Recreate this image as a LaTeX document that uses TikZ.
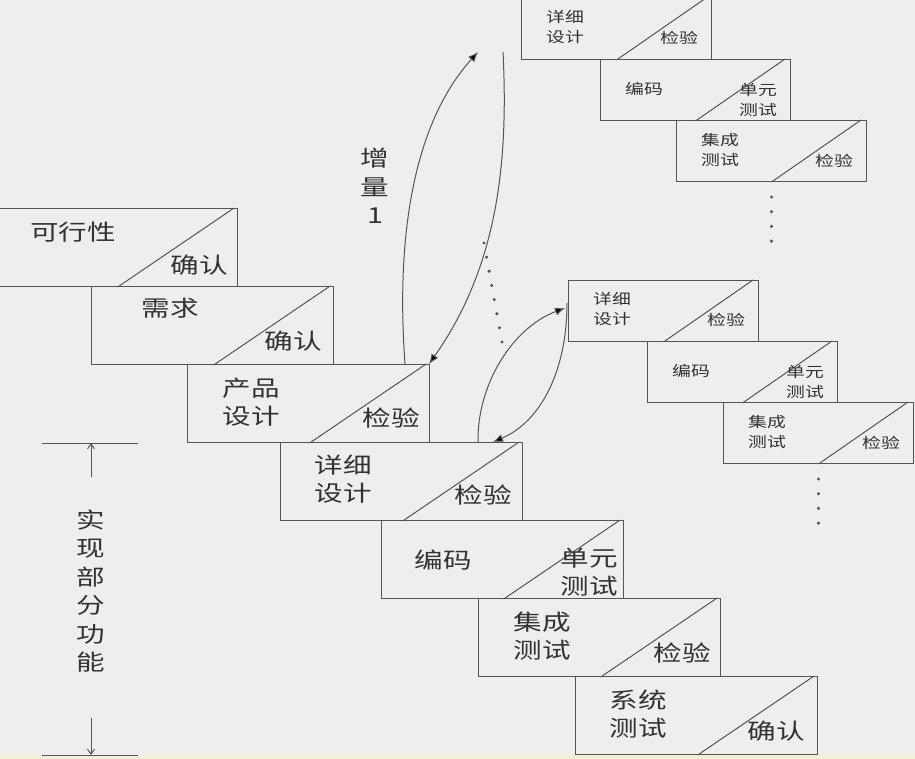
\documentclass[tikz,border=0pt]{standalone}
\usepackage{fontspec}
\newfontfamily\cjk[FakeStretch=1.3]{Noto Sans CJK SC}
\usetikzlibrary{arrows.meta}
\definecolor{bgc}{RGB}{238,238,238}
\definecolor{linec}{RGB}{85,85,85}
\definecolor{txtc}{RGB}{50,50,50}
\tikzset{
  stage/.style={draw=linec, line width=1.1pt, minimum width=242pt, minimum height=78pt, anchor=north west, inner sep=0pt},
  mini/.style={draw=linec, line width=1pt, minimum width=190pt, minimum height=61pt, anchor=north west, inner sep=0pt},
  edge/.style={draw=linec, line width=1pt},
  big/.style={font=\cjk\fontsize{22}{28.5}\selectfont, text=txtc, align=center, inner sep=0pt},
  small/.style={font=\cjk\fontsize{14.5}{20}\selectfont, text=txtc, align=center, inner sep=0pt},
  loop/.style={draw=linec, line width=1pt, -{Latex[length=10pt,width=8pt,fill=black]}},
  dim/.style={draw=linec, line width=1pt, -{Straight Barb[length=5pt,width=7pt]}}
}

\begin{document}
\begin{tikzpicture}[x=1pt,y=-1pt]
\useasboundingbox (0,0) rectangle (915,759);
\fill[bgc] (0,0) rectangle (915,759);
\fill[yellow!12!bgc] (0,755) rectangle (915,759);

% main staircase
\foreach \n/\x in {1/-5,2/91,3/187,4/280,5/381,6/478,7/575}
  \node[stage] (p\n) at (\x,{130+78*\n}) {};
\foreach \n in {1,...,7}
  \draw[edge] ([xshift=1pt]p\n.south) -- ([xshift=-4pt]p\n.north east);

\node[big] (p1l) at ([shift={(78,24)}]p1.north west) {可行性};
\node[big] (p1r) at ([shift={(-39,-22)}]p1.south east) {确认};
\node[big] (p2l) at ([shift={(79,22)}]p2.north west) {需求};
\node[big] (p2r) at ([shift={(-41,-24)}]p2.south east) {确认};
\node[big] (p3l) at ([shift={(64,38)}]p3.north west) {产品\\设计};
\node[big] (p3r) at ([shift={(-39,-25)}]p3.south east) {检验};
\node[big] (p4l) at ([shift={(63,37)}]p4.north west) {详细\\设计};
\node[big] (p4r) at ([shift={(-40,-26)}]p4.south east) {检验};
\node[big] (p5l) at ([shift={(62,40)}]p5.north west) {编码};
\node[big] (p5r) at ([shift={(-35,-27)}]p5.south east) {单元\\测试};
\node[big] (p6l) at ([shift={(64,38)}]p6.north west) {集成\\测试};
\node[big] (p6r) at ([shift={(-39,-24)}]p6.south east) {检验};
\node[big] (p7l) at ([shift={(63,38)}]p7.north west) {系统\\测试};
\node[big] (p7r) at ([shift={(-42,-24)}]p7.south east) {确认};

% two smaller increments
\foreach \s/\ox/\oy in {u/521/-2, v/568/280}{
  \node[mini] (\s-a) at (\ox,\oy) {};
  \node[mini] (\s-b) at ([shift={(79,61)}]\s-a.north west) {};
  \node[mini] (\s-c) at ([shift={(76,61)}]\s-b.north west) {};
  \foreach \m in {a,b,c}
    \draw[edge] (\s-\m.south) -- ([xshift=-6pt]\s-\m.north east);
  \node[small] (\s-al) at ([shift={(44,29)}]\s-a.north west) {详细\\设计};
  \node[small] (\s-ar) at ([shift={(-33,-22)}]\s-a.south east) {检验};
  \node[small] (\s-bl) at ([shift={(44,30)}]\s-b.north west) {编码};
  \node[small] (\s-br) at ([shift={(-33,-21)}]\s-b.south east) {单元\\测试};
  \node[small] (\s-cl) at ([shift={(44,30)}]\s-c.north west) {集成\\测试};
  \node[small] (\s-cr) at ([shift={(-33,-21)}]\s-c.south east) {检验};
  \foreach \k in {0,...,3}
    \fill[linec] ([shift={(0,15+14.7*\k)}]\s-c.south) circle (1.7);
}

% increment 1 loop
\coordinate (up1) at (478,52);
\coordinate (dn1) at (503,52);
\draw[loop] ([xshift=218pt]p3.north west) .. controls (396,240) and (412,125) .. (up1);
\draw[loop] (dn1) .. controls (509,170) and (495,270) .. ([xshift=-1pt]p3.north east);
\node[big] (inc) at (375,186) {增\\量\\1};
\foreach \k in {0,...,7}
  \fill[linec] ({484+18*\k/7},{243+99*\k/7}) circle (1.7);

% loop to second increment
\draw[loop] ([xshift=198pt]p4.north west) .. controls (477,385) and (512,328) .. ([shift={(-3,-3)}]v-a.west);
\draw[loop] ([shift={(-1,-8)}]v-a.west) .. controls (567,372) and (540,422) .. ([xshift=213pt]p4.north west);

% span of partial function
\coordinate (dtl) at (42,443);
\coordinate (dtr) at (138,443);
\coordinate (dbl) at (42,755);
\coordinate (dbr) at (138,755);
\coordinate (dt) at (91,443);
\coordinate (db) at (91,755);
\coordinate (da) at (91,477);
\coordinate (dz) at (91,718);
\draw[edge] (dtl) -- (dtr);
\draw[edge] (dbl) -- (dbr);
\draw[dim] (da) -- (dt);
\draw[dim] (dz) -- (db);
\node[big] (span) at (91,591) {实\\现\\部\\分\\功\\能};
\end{tikzpicture}
\end{document}
